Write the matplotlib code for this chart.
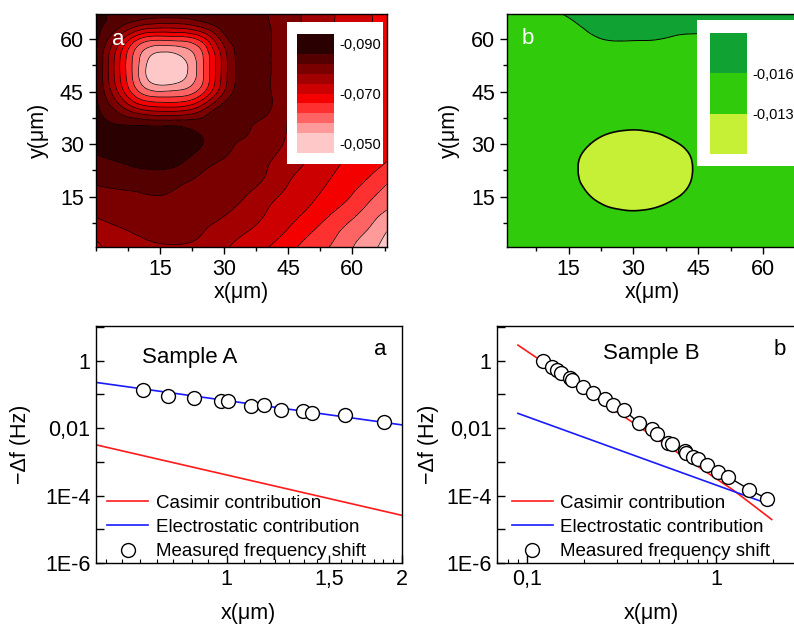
import numpy as np
import matplotlib
matplotlib.use("Agg")
import matplotlib.pyplot as plt
import matplotlib.tri as mtri
from matplotlib.ticker import FixedLocator, FuncFormatter, LogLocator, MultipleLocator, NullFormatter
from matplotlib.patches import Rectangle

plt.rcParams['font.family'] = ['Liberation Sans', 'DejaVu Sans']

# ---- maps: grid in um (units of 1e-3) ----
grid_x = [0, 5, 10, 15, 20, 25, 30, 35, 40, 45, 50, 55, 60, 65, 68]
grid_y = [0, 5, 10, 15, 20, 25, 30, 35, 40, 45, 50, 55, 60, 65, 67.5]

# sample A, rows from y=0 upwards
zA_rows = [
    [-72.0, -76.5, -77.3, -77.5, -77.5, -77.0, -74.5, -72.0, -70.0, -67.0, -64.2, -61.5, -58.0, -54.5, -52.0],
    [-75.7, -77.5, -78.3, -79.0, -79.0, -78.1, -76.2, -74.2, -72.1, -69.6, -66.4, -63.5, -59.8, -56.8, -54.0],
    [-78.4, -79.3, -79.9, -80.4, -79.9, -79.2, -78.2, -76.3, -73.8, -71.5, -69.0, -66.0, -63.0, -59.1, -57.3],
    [-80.6, -81.1, -81.5, -81.9, -81.2, -80.6, -79.3, -78.0, -75.3, -73.1, -70.9, -68.4, -65.7, -62.1, -60.1],
    [-82.7, -83.4, -84.1, -84.4, -82.9, -81.5, -80.3, -79.2, -77.6, -74.4, -72.2, -69.9, -67.7, -65.0, -63.0],
    [-85.0, -86.0, -86.8, -87.0, -86.3, -83.5, -81.7, -80.4, -78.4, -76.0, -73.5, -71.1, -69.0, -67.1, -66.0],
    [-87.0, -88.0, -88.5, -88.5, -87.5, -86.0, -83.0, -81.6, -80.1, -77.2, -74.4, -72.0, -69.7, -67.5, -66.5],
    [-87.0, -86.5, -86.5, -86.3, -86.0, -84.6, -84.0, -82.4, -80.8, -77.8, -75.0, -72.6, -70.8, -68.3, -67.0],
    [-86.8, -81.0, -74.3, -72.0, -72.3, -77.3, -84.0, -83.0, -82.5, -78.2, -75.6, -73.1, -70.8, -68.6, -67.3],
    [-86.7, -74.4, -62.2, -58.2, -59.0, -64.8, -78.0, -84.0, -82.6, -79.2, -75.9, -73.4, -71.1, -69.0, -67.6],
    [-86.7, -72.0, -58.1, -49.8, -52.1, -61.4, -76.0, -84.3, -82.6, -79.7, -76.3, -73.7, -71.4, -69.4, -68.0],
    [-86.8, -72.3, -58.8, -52.1, -53.9, -61.7, -76.1, -84.3, -82.6, -79.9, -76.6, -74.0, -71.6, -69.6, -68.2],
    [-87.0, -77.3, -66.1, -63.0, -63.6, -68.3, -80.2, -84.5, -82.6, -79.8, -76.8, -74.3, -71.9, -69.8, -68.6],
    [-87.2, -84.4, -81.2, -79.5, -79.7, -82.1, -84.5, -84.5, -82.3, -79.6, -77.0, -74.4, -72.0, -69.9, -69.0],
    [-87.5, -85.0, -84.5, -84.2, -84.3, -84.5, -84.6, -84.0, -82.0, -79.5, -77.0, -74.5, -72.1, -69.9, -69.2],
]

# sample B
zB_rows = [
    [-14.5, -14.5, -14.5, -14.5, -14.5, -14.5, -14.5, -14.5, -14.5, -14.5, -14.5, -14.5, -14.5, -14.5, -14.5],
    [-14.5, -14.5, -14.5, -14.5, -14.5, -14.35, -14.25, -14.4, -14.5, -14.5, -14.5, -14.5, -14.5, -14.5, -14.5],
    [-14.5, -14.5, -14.5, -14.47, -13.8, -13.34, -13.19, -13.35, -13.74, -14.3, -14.5, -14.5, -14.5, -14.5, -14.5],
    [-14.5, -14.5, -14.5, -13.85, -13.02, -12.6, -12.49, -12.61, -12.96, -13.6, -14.4, -14.5, -14.5, -14.5, -14.5],
    [-14.5, -14.5, -14.5, -13.48, -12.68, -12.27, -12.15, -12.28, -12.62, -13.24, -14.08, -14.5, -14.5, -14.5, -14.5],
    [-14.5, -14.5, -14.5, -13.46, -12.66, -12.25, -12.14, -12.27, -12.61, -13.22, -14.05, -14.5, -14.5, -14.5, -14.5],
    [-14.5, -14.5, -14.5, -13.83, -13.0, -12.58, -12.47, -12.59, -12.94, -13.6, -14.4, -14.5, -14.5, -14.5, -14.5],
    [-14.5, -14.5, -14.5, -14.47, -13.8, -13.35, -13.2, -13.36, -13.75, -14.3, -14.5, -14.5, -14.5, -14.5, -14.5],
    [-14.5, -14.5, -14.5, -14.5, -14.5, -14.4, -14.3, -14.42, -14.5, -14.5, -14.5, -14.5, -14.5, -14.5, -14.5],
    [-14.5, -14.5, -14.5, -14.5, -14.5, -14.5, -14.5, -14.5, -14.5, -14.5, -14.5, -14.5, -14.5, -14.5, -14.5],
    [-14.5, -14.5, -14.5, -14.5, -14.5, -14.5, -14.5, -14.5, -14.5, -14.5, -14.5, -14.5, -14.5, -14.5, -14.5],
    [-14.5, -14.5, -14.6, -14.7, -14.8, -14.9, -14.9, -14.9, -14.9, -14.9, -14.9, -14.9, -14.9, -14.9, -14.9],
    [-14.5, -14.6, -14.9, -15.3, -15.75, -16.1, -16.1, -16.05, -15.8, -15.7, -15.6, -15.6, -15.6, -15.6, -15.6],
    [-14.6, -14.8, -15.1, -15.8, -16.4, -16.7, -16.8, -16.8, -16.6, -16.6, -16.5, -16.5, -16.5, -16.5, -16.5],
    [-14.6, -14.9, -15.5, -16.3, -16.8, -17.0, -17.0, -17.0, -17.0, -17.0, -17.0, -17.0, -17.0, -17.0, -17.0],
]

levelsA = [-0.086, -0.082, -0.078, -0.074, -0.070, -0.066, -0.062, -0.058, -0.054]
colorsA = ['#2a0000', '#540000', '#7a0000', '#a20000', '#cc0000',
           '#f40000', '#ff3030', '#ff6464', '#ff9a9a', '#ffc8c8']
keyA_bounds = [-0.094] + levelsA + [-0.046]
keyA_ticks = [-0.090, -0.070, -0.050]
keyA_labels = ['-0,090', '-0,070', '-0,050']

levelsB = [-0.016, -0.013]
colorsB = ['#10a334', '#30cc0c', '#c6f035']
keyB_bounds = [-0.019] + levelsB + [-0.010]
keyB_labels = ['-0,016', '-0,013']

# ---- frequency shift curves ----
xA_meas = [0.717, 0.792, 0.877, 0.976, 1.005, 1.10, 1.159, 1.24, 1.351, 1.404, 1.598, 1.867]
yA_meas = [0.135, 0.0912, 0.0764, 0.0635, 0.0635, 0.0461, 0.0493, 0.0336, 0.0327, 0.0286, 0.0239, 0.0148]
xA_el = [0.596, 2.0]
yA_el = [0.227, 0.0125]
xA_cas = [0.596, 2.0]
yA_cas = [0.0032, 2.6e-5]

xB_meas = [0.1215, 0.1355, 0.144, 0.152, 0.169, 0.173, 0.198, 0.225, 0.259, 0.287, 0.327,
           0.394, 0.457, 0.49, 0.56, 0.583, 0.686, 0.694, 0.759, 0.806, 0.90, 1.028, 1.16, 1.50, 1.87]
yB_meas = [1.0, 0.636, 0.53, 0.44, 0.30, 0.267, 0.169, 0.107, 0.0713, 0.0483, 0.0343,
           0.0138, 0.0093, 0.00665, 0.00367, 0.00336, 0.00208, 0.00178, 0.00141, 0.00118,
           0.0008, 0.000506, 0.000359, 0.000151, 7.8e-5]
xB_cas = [0.09, 0.2, 0.5, 1.0, 1.234, 1.5, 1.97]
yB_cas = [2.9, 0.14, 4.4e-3, 3.2e-4, 1.45e-4, 6.3e-5, 1.95e-5]
xB_el = [0.09, 0.5, 1.97]
yB_el = [0.0274, 8.4e-4, 5.2e-5]


def draw_map(ax, z_rows, levels, colors, lws):
    X, Y = np.meshgrid(grid_x, grid_y)
    Z = np.array(z_rows) * 1e-3
    nx = len(grid_x)
    tris = []
    for j in range(len(grid_y) - 1):
        for i in range(nx - 1):
            a = j * nx + i
            tris.append([a, a + 1, a + nx + 1])
            tris.append([a, a + nx + 1, a + nx])
    tri = mtri.Triangulation(X.ravel(), Y.ravel(), tris)
    tri_f, z_f = mtri.UniformTriRefiner(tri).refine_field(Z.ravel(), subdiv=4)
    ax.tricontourf(tri_f, z_f, levels=[-1] + levels + [1], colors=colors)
    ax.tricontour(tri_f, z_f, levels=levels, colors='k', linewidths=lws,
                  linestyles='solid')


def draw_key(ax, box, rect, bounds, colors, ticks, labels):
    ax.add_patch(Rectangle(box[:2], box[2], box[3], transform=ax.transAxes,
                           facecolor='white', edgecolor='none', zorder=5))
    cax = ax.inset_axes(rect, zorder=6)
    for lo, hi, c in zip(bounds[:-1], bounds[1:], colors):
        cax.bar(0, hi - lo, bottom=lo, width=1, align='edge', color=c)
    cax.set_xlim(0, 1)
    cax.set_ylim(bounds[-1], bounds[0])
    cax.set_xticks([])
    cax.yaxis.tick_right()
    cax.set_yticks(ticks)
    cax.set_yticklabels(labels)
    cax.tick_params(axis='y', length=0, pad=4, labelsize=10.5)
    for s in cax.spines.values():
        s.set_visible(False)


def style_map(ax, xlim):
    ax.set_xlim(*xlim)
    ax.set_ylim(0.5, 67.2)
    ax.xaxis.set_major_locator(FixedLocator([15, 30, 45, 60]))
    ax.yaxis.set_major_locator(FixedLocator([15, 30, 45, 60]))
    ax.xaxis.set_minor_locator(MultipleLocator(7.5))
    ax.yaxis.set_minor_locator(MultipleLocator(7.5))
    ax.tick_params(which='major', direction='out', length=5, width=1, labelsize=15.5)
    ax.tick_params(which='minor', direction='out', length=3, width=1)
    ax.set_xlabel('x(μm)', fontsize=15.5, labelpad=1)
    ax.set_ylabel('y(μm)', fontsize=15.5, labelpad=8)
    for s in ax.spines.values():
        s.set_linewidth(1)


fig = plt.figure(figsize=(7.94, 6.28), dpi=100)
axA = fig.add_axes([0.1204, 0.6062, 0.3666, 0.3715])
axB = fig.add_axes([0.6382, 0.6062, 0.3666, 0.3715])
ax3 = fig.add_axes([0.1209, 0.1035, 0.385, 0.3774])
ax4 = fig.add_axes([0.6263, 0.1035, 0.3892, 0.3774])

draw_map(axA, zA_rows, levelsA, colorsA, 0.5)
style_map(axA, (0, 68))
draw_key(axA, (0.6585, 0.357, 0.33, 0.607), [0.693, 0.404, 0.127, 0.51],
         keyA_bounds, colorsA, keyA_ticks, keyA_labels)
axA.text(0.079, 0.889, 'a', color='white', fontsize=16, transform=axA.transAxes,
         ha='center', va='center')

draw_map(axB, zB_rows, levelsB, colorsB, [0.7, 1.2])
style_map(axB, (0.7, 68))
draw_key(axB, (0.653, 0.348, 0.36, 0.626), [0.699, 0.40, 0.125, 0.52],
         keyB_bounds, colorsB, levelsB, keyB_labels)
axB.text(0.073, 0.893, 'b', color='white', fontsize=16, transform=axB.transAxes,
         ha='center', va='center')

ylabels = {0: '1', -2: '0,01', -4: '1E-4', -6: '1E-6'}


def yfmt(v, pos):
    return ylabels.get(int(round(np.log10(v))), '')


def style_spec(ax, xlim):
    ax.set_xscale('log')
    ax.set_yscale('log')
    ax.set_xlim(*xlim)
    ax.set_ylim(1e-6, 10.7)
    ax.yaxis.set_major_locator(FixedLocator([10.0 ** k for k in range(-6, 2)]))
    ax.yaxis.set_major_formatter(FuncFormatter(yfmt))
    ax.yaxis.set_minor_locator(LogLocator(base=10, subs=np.arange(2, 10)))
    ax.yaxis.set_minor_formatter(NullFormatter())
    ax.tick_params(which='major', direction='in', length=6, width=1, labelsize=15.5, pad=4)
    ax.tick_params(which='minor', direction='in', length=3, width=0.8)
    ax.set_xlabel('x(μm)', fontsize=15.5, labelpad=10)
    for s in ax.spines.values():
        s.set_linewidth(1)


style_spec(ax3, (0.596, 2.0))
ax3.xaxis.set_major_locator(FixedLocator([1.0, 1.5, 2.0]))
ax3.xaxis.set_major_formatter(FuncFormatter(lambda v, p: {1.0: '1', 1.5: '1,5', 2.0: '2'}.get(round(v, 2), '')))
ax3.xaxis.set_minor_locator(FixedLocator([0.62, 0.66, 0.71, 0.76, 0.81, 0.87, 0.93, 1.07, 1.14, 1.21,
                                          1.28, 1.36, 1.43, 1.57, 1.64, 1.71, 1.79, 1.86, 1.93]))
ax3.xaxis.set_minor_formatter(NullFormatter())
ax3.set_ylabel('−Δf (Hz)', fontsize=15.5, labelpad=10)

ax3.plot(xA_cas, yA_cas, color='#ff1a1a', lw=1.2, label='Casimir contribution')
ax3.plot(xA_el, yA_el, color='#1a1aff', lw=1.2, label='Electrostatic contribution')
ax3.plot(xA_meas, yA_meas, 'o', ms=10, mfc='white', mec='black', mew=1,
         label='Measured frequency shift', zorder=4)
ax3.text(0.1495, 0.869, 'Sample A', fontsize=16, transform=ax3.transAxes, va='center')
ax3.text(0.929, 0.899, 'a', fontsize=16, transform=ax3.transAxes, ha='center', va='center')

style_spec(ax4, (0.07, 3.0))
ax4.xaxis.set_major_locator(FixedLocator([0.1, 1.0]))
ax4.xaxis.set_major_formatter(FuncFormatter(lambda v, p: {0.1: '0,1', 1.0: '1'}.get(round(v, 2), '')))
ax4.xaxis.set_minor_locator(LogLocator(base=10, subs=np.arange(2, 10)))
ax4.xaxis.set_minor_formatter(NullFormatter())
ax4.set_ylabel('−Δf (Hz)', fontsize=15.5, labelpad=5)

ax4.plot(xB_cas, yB_cas, color='#ff1a1a', lw=1.2, label='Casimir contribution')
ax4.plot(xB_el, yB_el, color='#1a1aff', lw=1.2, label='Electrostatic contribution')
ax4.plot(xB_meas, yB_meas, color='black', lw=1, zorder=3)
ax4.plot(xB_meas, yB_meas, 'o', ms=10, mfc='white', mec='black', mew=1,
         label='Measured frequency shift', zorder=4)
ax4.text(0.343, 0.886, 'Sample B', fontsize=16, transform=ax4.transAxes, va='center')
ax4.text(0.913, 0.899, 'b', fontsize=16, transform=ax4.transAxes, ha='center', va='center')

for ax, x0 in ((ax3, 0.036), (ax4, 0.0466)):
    ax.legend(loc='lower left', bbox_to_anchor=(x0, 0.012), frameon=False, fontsize=13.5,
              handlelength=2.2, handletextpad=0.4, labelspacing=0.38,
              borderpad=0, borderaxespad=0)

fig.savefig('out.png', dpi=100)
